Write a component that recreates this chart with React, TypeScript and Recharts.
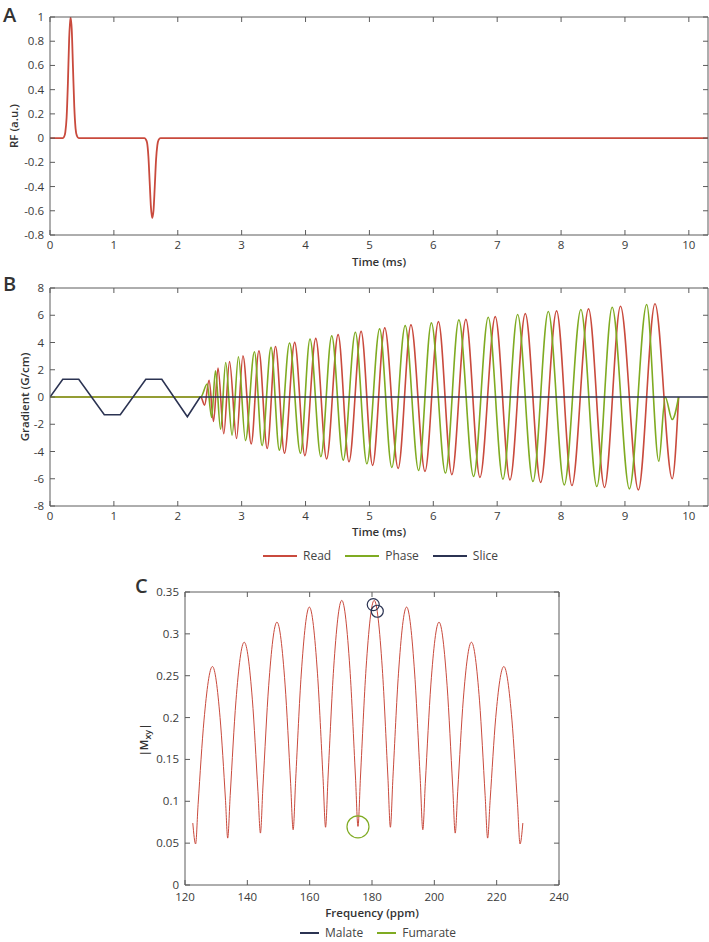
import React from 'react';
import { LineChart, Line, XAxis, YAxis, ReferenceDot } from 'recharts';

const FONT = '"Open Sans", "Noto Sans", sans-serif';
const AXIS = '#5c5c5c';
const TXT = '#3a3a3a';
const RED = '#c94a3d';
const GREEN = '#7fab22';
const NAVY = '#2b3352';

// Panel A: RF pulse
const rfTime = [0, 0.2, 0.22, 0.24, 0.26, 0.28, 0.3, 0.32, 0.34, 0.36, 0.38, 0.4, 0.42, 0.45,
  1.48, 1.5, 1.52, 1.54, 1.56, 1.58, 1.6, 1.62, 1.64, 1.66, 1.68, 1.7, 1.73, 10.3];
const rfValue = [0, 0, 0.01, 0.05, 0.17, 0.45, 0.82, 1.0, 0.9, 0.58, 0.26, 0.08, 0.02, 0,
  0, -0.01, -0.04, -0.15, -0.36, -0.57, -0.66, -0.6, -0.4, -0.18, -0.06, -0.015, 0, 0];
const rfTicks = [-0.8, -0.6, -0.4, -0.2, 0, 0.2, 0.4, 0.6, 0.8, 1];

// Panel B: gradients
const timeTicks = [0, 1, 2, 3, 4, 5, 6, 7, 8, 9, 10];
const gradTicks = [-8, -6, -4, -2, 0, 2, 4, 6, 8];

const readTime = [0, 2.36, 2.42, 2.49, 2.56, 2.63, 2.72, 2.81, 2.92, 3.02, 3.15, 3.27, 3.4, 3.53,
  3.67, 3.83, 3.99, 4.16, 4.33, 4.51, 4.68, 4.87, 5.05, 5.24, 5.45, 5.65, 5.87, 6.08, 6.29, 6.51,
  6.73, 6.97, 7.2, 7.44, 7.68, 7.93, 8.17, 8.43, 8.68, 8.93, 9.21, 9.47, 9.74, 9.84];
const readValue = [0, 0, -0.6, 1.23, -1.8, 2.12, -2.7, 2.6, -3.05, 3.03, -3.45, 3.4, -3.78, 3.71,
  -4.12, 4.01, -4.3, 4.3, -4.55, 4.58, -4.75, 4.82, -5.02, 5.07, -5.24, 5.29, -5.46, 5.53, -5.7, 5.7,
  -5.9, 5.9, -6.08, 6.12, -6.27, 6.32, -6.5, 6.47, -6.64, 6.66, -6.82, 6.84, -6.0, 0];

const phaseTime = [0, 2.36, 2.46, 2.53, 2.59, 2.67, 2.75, 2.85, 2.95, 3.06, 3.2, 3.32, 3.46, 3.59,
  3.75, 3.92, 4.07, 4.24, 4.41, 4.59, 4.78, 4.96, 5.16, 5.35, 5.56, 5.77, 5.97, 6.19, 6.4, 6.63,
  6.86, 7.09, 7.32, 7.56, 7.8, 8.05, 8.31, 8.56, 8.8, 9.07, 9.34, 9.53, 9.63, 9.74, 9.84];
const phaseValue = [0, 0, 0.95, -1.5, 1.92, -2.37, 2.53, -2.8, 2.95, -3.2, 3.32, -3.57, 3.64, -3.9,
  3.96, -4.13, 4.26, -4.38, 4.5, -4.63, 4.75, -4.9, 5.0, -5.17, 5.24, -5.39, 5.44, -5.58, 5.66, -5.83,
  5.85, -6.03, 6.05, -6.2, 6.27, -6.45, 6.42, -6.57, 6.59, -6.74, 6.79, -4.72, 0, -1.65, 0];

const sliceTime = [0, 0.2, 0.45, 0.85, 1.1, 1.5, 1.75, 2.15, 2.35, 10.3];
const sliceValue = [0, 1.3, 1.3, -1.3, -1.3, 1.3, 1.3, -1.45, 0, 0];

// Panel C: |Mxy| vs frequency
const freqPpm = [122.5, 123.4, 124.2, 126.1, 128.8, 131.25, 133.0, 133.7, 134.5, 136.35, 139.0,
  141.6, 143.4, 144.2, 145.0, 146.85, 149.5, 152.1, 153.9, 154.7, 155.5, 157.3, 159.9, 162.5,
  164.3, 165.1, 165.9, 167.7, 170.3, 172.9, 174.7, 175.5, 176.3, 178.1, 180.7, 183.3, 185.1,
  185.9, 186.7, 188.5, 191.1, 193.7, 195.5, 196.3, 197.1, 198.9, 201.5, 204.1, 205.9, 206.7,
  207.5, 209.3, 211.9, 214.5, 216.3, 217.1, 217.9, 219.7, 222.3, 224.9, 226.7, 227.5, 228.4];
const mxyValue = [0.074, 0.049, 0.096, 0.197, 0.261, 0.2, 0.101, 0.056, 0.107, 0.22, 0.29,
  0.222, 0.112, 0.062, 0.117, 0.238, 0.314, 0.24, 0.121, 0.066, 0.125, 0.252, 0.332, 0.253,
  0.127, 0.069, 0.129, 0.259, 0.34, 0.259, 0.129, 0.07, 0.129, 0.259, 0.34, 0.259, 0.129,
  0.069, 0.127, 0.253, 0.332, 0.252, 0.125, 0.066, 0.121, 0.24, 0.314, 0.238, 0.117, 0.062,
  0.112, 0.222, 0.29, 0.22, 0.107, 0.056, 0.101, 0.2, 0.261, 0.197, 0.096, 0.049, 0.074];
const freqTicks = [120, 140, 160, 180, 200, 220, 240];
const mxyTicks = [0, 0.05, 0.1, 0.15, 0.2, 0.25, 0.3, 0.35];

const malateFreq = [180.4, 181.7];
const malateMxy = [0.335, 0.327];
const fumarateFreq = [175.5];
const fumarateMxy = [0.0695];

const zip = (xs: number[], ys: number[]) => xs.map((t, i) => ({ t, v: ys[i] }));

const rfData = zip(rfTime, rfValue);
const readData = zip(readTime, readValue);
const phaseData = zip(phaseTime, phaseValue);
const sliceData = zip(sliceTime, sliceValue);
const mxyData = zip(freqPpm, mxyValue);

const fmt = (v: number) => String(Math.round(v * 100) / 100);

// MATLAB-like inward ticks
const bottomTick = (plotBottom: number, dy = 14) => (p: any) => (
  <g>
    <line x1={p.x} x2={p.x} y1={plotBottom} y2={plotBottom - 5} stroke={AXIS} />
    <text x={p.x} y={plotBottom + dy} textAnchor="middle" fill={TXT} fontSize={11.5} fontFamily={FONT}>
      {fmt(p.payload.value)}
    </text>
  </g>
);
const topTick = (plotTop: number) => (p: any) => (
  <line x1={p.x} x2={p.x} y1={plotTop} y2={plotTop + 5} stroke={AXIS} />
);
const leftTick = (plotLeft: number) => (p: any) => (
  <g>
    <line x1={plotLeft} x2={plotLeft + 5} y1={p.y} y2={p.y} stroke={AXIS} />
    <text x={plotLeft - 6} y={p.y + 4} textAnchor="end" fill={TXT} fontSize={11.5} fontFamily={FONT}>
      {fmt(p.payload.value)}
    </text>
  </g>
);
const rightTick = (plotRight: number) => (p: any) => (
  <line x1={plotRight} x2={plotRight - 5} y1={p.y} y2={p.y} stroke={AXIS} />
);

const abs = (left: number, top: number): React.CSSProperties => ({ position: 'absolute', left, top });
const title: React.CSSProperties = {
  position: 'absolute', fontFamily: FONT, fontSize: 11.5, fontWeight: 600, color: '#333',
  whiteSpace: 'nowrap', lineHeight: '14px',
};
const letter: React.CSSProperties = {
  position: 'absolute', fontFamily: FONT, fontSize: 20, fontWeight: 600, color: '#333', lineHeight: '20px',
};

function LegendItem({ color, label, lineW }: { color: string; label: string; lineW: number }) {
  return (
    <div style={{ display: 'flex', alignItems: 'center', marginRight: 14 }}>
      <div style={{ width: lineW, height: 2, background: color, marginRight: 6 }} />
      <span style={{ fontFamily: FONT, fontSize: 12, color: '#444', lineHeight: '14px' }}>{label}</span>
    </div>
  );
}

// frame axes (top + right) need a series bound to them, so a hidden copy is drawn there
function frameAxes(xDomain: number[], xTicks: number[], yDomain: number[], yTicks: number[],
  plotTop: number, plotRight: number) {
  return [
    <XAxis key="xt" xAxisId="top" orientation="top" dataKey="t" type="number" domain={xDomain} ticks={xTicks}
      allowDataOverflow height={1} interval={0} tickLine={false} axisLine={{ stroke: AXIS }} tick={topTick(plotTop)} />,
    <YAxis key="yr" yAxisId="right" orientation="right" type="number" domain={yDomain} ticks={yTicks}
      allowDataOverflow width={1} interval={0} tickLine={false} axisLine={{ stroke: AXIS }} tick={rightTick(plotRight)} />,
  ];
}

function TimePanel({ top, children, domain, ticks, frameData }: any) {
  return (
    <div style={abs(0, top)}>
      <LineChart width={709} height={270} margin={{ top: 16, right: 0, bottom: 5, left: 0 }}>
        <XAxis dataKey="t" type="number" domain={[0, 10.3]} ticks={timeTicks} allowDataOverflow
          height={30} interval={0} tickLine={false} axisLine={{ stroke: AXIS }} tick={bottomTick(235)} />
        <YAxis type="number" domain={domain} ticks={ticks} allowDataOverflow width={50} interval={0}
          tickLine={false} axisLine={{ stroke: AXIS }} tick={leftTick(50)} />
        {frameAxes([0, 10.3], timeTicks, domain, ticks, 17, 708)}
        <Line data={frameData} dataKey="v" xAxisId="top" yAxisId="right" stroke="none" dot={false}
          isAnimationActive={false} />
        {children}
      </LineChart>
    </div>
  );
}

export default function App() {
  return (
    <div style={{ position: 'absolute', left: 0, top: 0, width: 709, height: 942, background: '#fff' }}>
      {/* A */}
      <div style={{ ...letter, left: 3, top: 5 }}>A</div>
      <TimePanel top={0} domain={[-0.8, 1]} ticks={rfTicks} frameData={rfData}>
        <Line data={rfData} dataKey="v" type="monotone" stroke={RED} strokeWidth={1.8} dot={false}
          isAnimationActive={false} />
      </TimePanel>
      <div style={{ ...title, left: 379, top: 255, transform: 'translateX(-50%)' }}>Time (ms)</div>
      <div style={{ ...title, left: 14, top: 126, transform: 'translate(-50%, -50%) rotate(-90deg)' }}>RF (a.u.)</div>

      {/* B */}
      <div style={{ ...letter, left: 3, top: 274 }}>B</div>
      <TimePanel top={271} domain={[-8, 8]} ticks={gradTicks} frameData={sliceData}>
        <Line data={readData} dataKey="v" type="monotone" stroke={RED} strokeWidth={1.6} dot={false}
          isAnimationActive={false} />
        <Line data={phaseData} dataKey="v" type="monotone" stroke={GREEN} strokeWidth={1.6} dot={false}
          isAnimationActive={false} />
        <Line data={sliceData} dataKey="v" type="linear" stroke={NAVY} strokeWidth={1.6} dot={false}
          isAnimationActive={false} />
      </TimePanel>
      <div style={{ ...title, left: 379, top: 525, transform: 'translateX(-50%)' }}>Time (ms)</div>
      <div style={{ ...title, left: 25, top: 397, transform: 'translate(-50%, -50%) rotate(-90deg)' }}>Gradient (G/cm)</div>
      <div style={{ position: 'absolute', left: 263, top: 549, display: 'flex' }}>
        <LegendItem color={RED} label="Read" lineW={34} />
        <LegendItem color={GREEN} label="Phase" lineW={34} />
        <LegendItem color={NAVY} label="Slice" lineW={34} />
      </div>

      {/* C */}
      <div style={{ ...letter, left: 135, top: 576 }}>C</div>
      <div style={abs(135, 570)}>
        <LineChart width={450} height={350} margin={{ top: 21, right: 25, bottom: 5, left: 0 }}>
          <XAxis dataKey="t" type="number" domain={[120, 240]} ticks={freqTicks} allowDataOverflow
            height={30} interval={0} tickLine={false} axisLine={{ stroke: AXIS }} tick={bottomTick(315, 16)} />
          <YAxis type="number" domain={[0, 0.35]} ticks={mxyTicks} allowDataOverflow width={50} interval={0}
            tickLine={false} axisLine={{ stroke: AXIS }} tick={leftTick(50)} />
          {frameAxes([120, 240], freqTicks, [0, 0.35], mxyTicks, 22, 424)}
          <Line data={mxyData} dataKey="v" xAxisId="top" yAxisId="right" stroke="none" dot={false}
            isAnimationActive={false} />
          <Line data={mxyData} dataKey="v" type="monotone" stroke={RED} strokeWidth={1} dot={false}
            isAnimationActive={false} />
          {malateFreq.map((f, i) => (
            <ReferenceDot key={'m' + i} x={f} y={malateMxy[i]} r={6} fill="none" stroke={NAVY} strokeWidth={1.2} />
          ))}
          {fumarateFreq.map((f, i) => (
            <ReferenceDot key={'f' + i} x={f} y={fumarateMxy[i]} r={11} fill="none" stroke={GREEN} strokeWidth={1.2} />
          ))}
        </LineChart>
      </div>
      <div style={{ ...title, left: 372, top: 906, transform: 'translateX(-50%)' }}>Frequency (ppm)</div>
      <div style={{ ...title, left: 146, top: 740, transform: 'translate(-50%, -50%) rotate(-90deg)' }}>
        |M<sub style={{ fontSize: 9, verticalAlign: '-3px' }}>xy</sub>|
      </div>
      <div style={{ position: 'absolute', left: 300, top: 926, display: 'flex' }}>
        <LegendItem color={NAVY} label="Malate" lineW={19} />
        <LegendItem color={GREEN} label="Fumarate" lineW={19} />
      </div>
    </div>
  );
}
